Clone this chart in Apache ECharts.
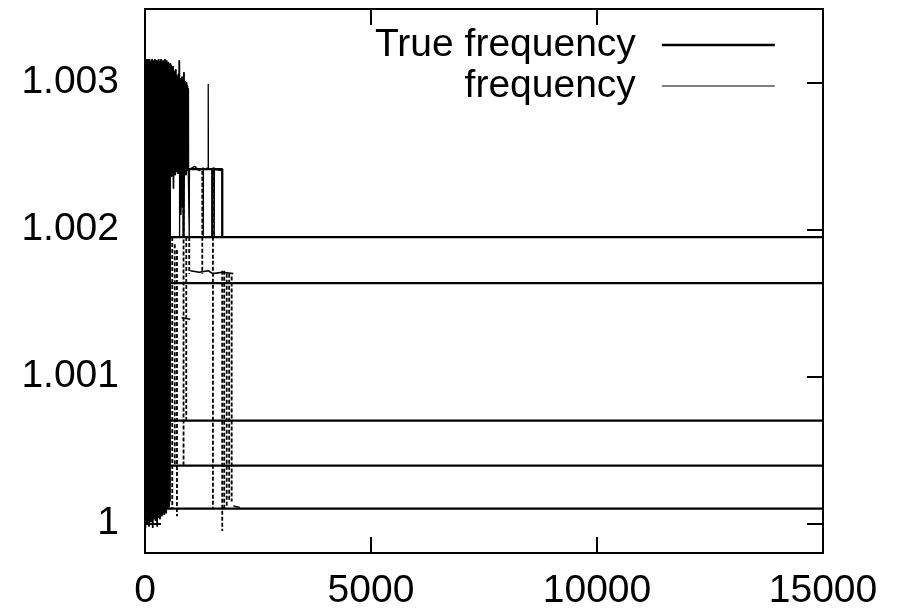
<!DOCTYPE html>
<html><head><meta charset="utf-8">
<script src="https://cdn.jsdelivr.net/npm/echarts@6/dist/echarts.min.js"></script>
<style>html,body{margin:0;padding:0;background:#fff}#c{width:898px;height:615px}</style>
</head><body><div id="c"></div>
<script>
// ---- axis ticks ----
const xTicks = [0, 5000, 10000, 15000];
const yTicks = [1, 1.001, 1.002, 1.003];
const yTickLabels = ['1', '1.001', '1.002', '1.003'];

// ---- True frequency: converged levels (flat lines) ----
const trueLevels = [1.001949, 1.001636, 1.000700, 1.000394, 1.000102];
// ---- True frequency: stepping node ----
const trueStep = [[0,1.002411],[853,1.002411],[853,1.001949],[860,1.001949],[860,1.002411],
  [1488,1.002411],[1488,1.001949],[1495,1.001949],[1495,1.002411],[1709,1.002411],[1709,1.001949],[1720,1.001949]];

// ---- frequency: early oscillation ----
const freqEarly = [[0,1.00314],[10,0.99997],[20,1.00316],[30,1.00002],[40,1.00315],[50,0.99999],[60,1.00316],[70,1.00003],
  [80,1.00313],[90,0.99998],[100,1.00316],[110,1.00004],[120,1.00314],[130,1.00001],[140,1.00315],[150,1.00005],
  [160,1.00316],[170,0.99997],[180,1.00312],[190,1.00003],[200,1.00315],[210,1.00006],[220,1.00316],[230,1.00002],
  [240,1.00314],[250,1.00005],[260,1.00315],[270,0.99998],[280,1.00313],[290,1.00004],[300,1.00316],[310,1.00006],
  [320,1.00314],[330,1.00003],[340,1.00315],[350,1.00007],[360,1.00316],[370,1.00005],[380,1.00313],[390,1.00006],
  [400,1.00315],[410,1.00008],[420,1.00314],[430,1.00006],[440,1.00316],[450,1.00009],[460,1.00312],[470,1.00007],
  [480,1.00315],[490,1.00010],[500,1.00313],[510,1.00012],[520,1.00314],[530,1.00011],[540,1.00311],[550,1.00015],
  [560,1.00313],[570,1.00238],[580,1.00312],[590,1.00236],[600,1.00310],[610,1.00241],[620,1.00311],[630,1.00228],
  [640,1.00308],[650,1.00240],[660,1.00306],[670,1.00237],[680,1.00309],[690,1.00239],[700,1.00305],[710,1.00242],
  [720,1.00304],[730,1.00238],[740,1.00306],[750,1.00240],[760,1.00315],[770,1.00236],[780,1.00303],[790,1.00210],
  [800,1.00302],[810,1.00239],[820,1.00304],[830,1.00215],[840,1.00300],[850,1.00241],[860,1.00307],[870,1.00238],
  [880,1.00301],[890,1.00240],[900,1.00299],[910,1.00237],[920,1.00300],[930,1.00241],[940,1.00298],[950,1.00240],
  [957,1.00296],[960,1.00241]];

// ---- frequency: plateau with dips and a spike ----
const freqPlateau = [[765,1.00241],[765,1.00195],[769,1.00195],[769,1.00241],[957,1.00241],[979,1.00242],[979,1.00195],
  [983,1.00195],[983,1.00241],[1100,1.00243],[1200,1.00240],[1289,1.00242],[1289,1.00195],[1293,1.00195],[1293,1.00241],
  [1399,1.00242],[1399,1.00299],[1403,1.00299],[1403,1.00241],[1532,1.00242],[1532,1.00195],[1536,1.00195],
  [1536,1.00241],[1709,1.00240]];

// ---- frequency: short horizontal pieces ----
const freqMid = [[1000,1.00172],[1200,1.00171],[1400,1.00172],[1500,1.00170],[1709,1.00171],[1952,1.00170]];
const freqLow = [[810,1.00140],[1000,1.00139]];
const freqTail = [[1950,1.00012],[2100,1.00011]];

// ---- frequency: dotted vertical runs (time, top, bottom) ----
const dashT   = [603, 659, 707, 853, 913, 979, 1267, 1503, 1709, 1753, 1808, 1863, 1918];
const dashTop = [1.00195,1.00190,1.00186,1.00230,1.00195,1.00195,1.00240,1.00240,1.00172,1.00172,1.00170,1.00170,1.00168];
const dashBot = [1.00010,1.00040,1.00005,1.00040,1.00070,1.00170,1.00170,1.00010,0.99995,1.00010,1.00012,1.00015,1.00015];

const FONT = 'Liberation Sans, Arial, Helvetica, sans-serif';
const thick = {color:'#000', width:2.3};
const thin = {color:'#000', width:1};
const black = {color:'#000'};

const series = [];
trueLevels.forEach(v => series.push({name:'True frequency', type:'line', symbol:'none', lineStyle:thick, itemStyle:black,
  data:[[xTicks[0], v],[xTicks[xTicks.length-1], v]]}));
series.push({name:'True frequency', type:'line', symbol:'none', lineStyle:thick, itemStyle:black, data:trueStep});
series.push({name:'frequency', type:'line', symbol:'none', lineStyle:thin, itemStyle:black, data:freqEarly});
series.push({name:'frequency', type:'line', symbol:'none', lineStyle:{color:'#000', width:1.7}, itemStyle:black, data:freqEarly});
series.push({name:'frequency', type:'line', symbol:'none', lineStyle:{color:'#000', width:1.3}, itemStyle:black, data:freqPlateau});
series.push({name:'frequency', type:'line', symbol:'none', lineStyle:{color:'#000', width:1.6}, itemStyle:black, data:freqMid});
series.push({name:'frequency', type:'line', symbol:'none', lineStyle:{color:'#000', width:1.5}, itemStyle:black, data:freqLow});
series.push({name:'frequency', type:'line', symbol:'none', lineStyle:{color:'#000', width:1.3}, itemStyle:black, data:freqTail});
dashT.forEach((t,i) => series.push({name:'frequency', type:'line', symbol:'none', itemStyle:black,
  lineStyle:{color:'#000', width:1.8, type:[4,2]}, data:[[t,dashTop[i]],[t,dashBot[i]]]}));
series.forEach(s => { s.animation = false; s.silent = true; });

const axisCommon = {
  axisLine:{show:true, onZero:false, lineStyle:{color:'#000', width:2}},
  splitLine:{show:false}
};
const chart = echarts.init(document.getElementById('c'), null, {renderer:'canvas'});
chart.setOption({
  animation:false,
  backgroundColor:'#fff',
  grid:{left:145, right:75, top:9, bottom:62},
  legend:{
    orient:'vertical', right:122, top:25, align:'right', padding:0, itemGap:1,
    itemWidth:113, itemHeight:14,
    itemStyle:{opacity:0},
    textStyle:{fontFamily:FONT, fontSize:39, color:'#000', lineHeight:40, padding:[0,21,0,0]},
    data:[{name:'True frequency', lineStyle:{width:2.3, color:'#000'}},
          {name:'frequency', lineStyle:{width:1, color:'#000'}}]
  },
  xAxis:[
    Object.assign({type:'value', min:xTicks[0], max:xTicks[xTicks.length-1], interval:5000, position:'bottom',
      axisTick:{inside:true, length:16, lineStyle:{color:'#000', width:2}},
      axisLabel:{margin:19, fontFamily:FONT, fontSize:39, color:'#000', formatter:v => String(v)}}, axisCommon),
    Object.assign({type:'value', min:xTicks[0], max:xTicks[xTicks.length-1], interval:5000, position:'top',
      axisTick:{inside:true, length:16, lineStyle:{color:'#000', width:2}},
      axisLabel:{show:false}}, axisCommon)
  ],
  yAxis:[
    Object.assign({type:'value', min:0.9998, max:1.0035, position:'left',
      axisTick:{inside:true, length:16, customValues:yTicks, lineStyle:{color:'#000', width:2}},
      axisLabel:{customValues:yTicks, margin:26, fontFamily:FONT, fontSize:39, color:'#000',
        formatter:v => { const i = yTicks.findIndex(t => Math.abs(t - v) < 1e-9); return i >= 0 ? yTickLabels[i] : ''; }}}, axisCommon),
    Object.assign({type:'value', min:0.9998, max:1.0035, position:'right',
      axisTick:{inside:true, length:16, customValues:yTicks, lineStyle:{color:'#000', width:2}},
      axisLabel:{show:false}}, axisCommon)
  ],
  series:series
});
</script></body></html>
